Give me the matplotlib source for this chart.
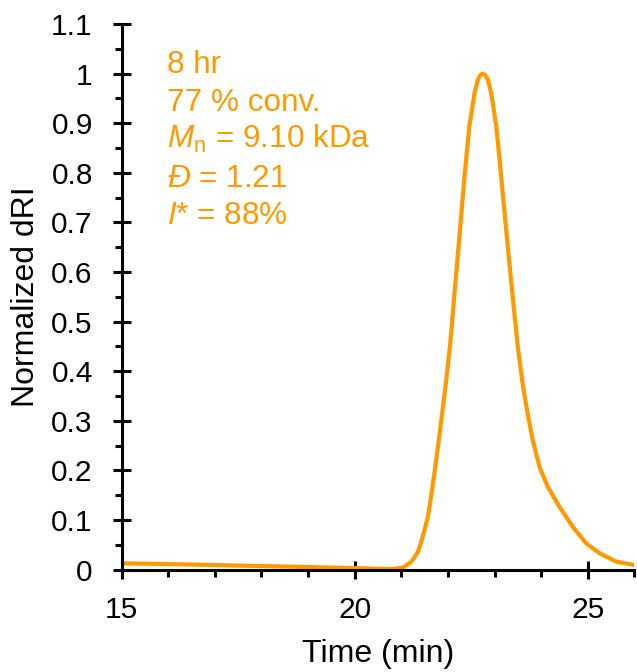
import matplotlib
matplotlib.use("Agg")
import matplotlib.pyplot as plt
from matplotlib.ticker import MultipleLocator

plt.rcParams['font.family'] = ['Liberation Sans', 'DejaVu Sans']
plt.rcParams['mathtext.fontset'] = 'custom'
plt.rcParams['mathtext.rm'] = 'Liberation Sans'
plt.rcParams['mathtext.it'] = 'Liberation Sans:italic'
plt.rcParams['mathtext.bf'] = 'Liberation Sans:bold'

time_min = [15.0, 16.0, 17.0, 18.0, 19.0, 20.0, 20.5, 20.8, 21.04, 21.22, 21.36,
            21.46, 21.57, 21.64, 21.71, 21.79, 21.87, 21.95, 22.05, 22.14, 22.25,
            22.30, 22.35, 22.40, 22.46, 22.57, 22.64, 22.70, 22.75, 22.80, 22.86,
            22.93, 23.04, 23.10, 23.15, 23.20, 23.285, 23.39, 23.50, 23.61, 23.71,
            23.82, 23.965, 24.14, 24.39, 24.68, 24.965, 25.25, 25.61, 26.0]
dri = [0.0125, 0.011, 0.009, 0.007, 0.005, 0.003, 0.0015, 0.001, 0.004, 0.016, 0.036,
       0.066, 0.106, 0.147, 0.194, 0.25, 0.31, 0.37, 0.455, 0.555, 0.675,
       0.73, 0.785, 0.835, 0.893, 0.960, 0.987, 0.997, 1.0, 0.997, 0.987,
       0.960, 0.893, 0.835, 0.785, 0.735, 0.651, 0.550, 0.449, 0.37, 0.315,
       0.261, 0.207, 0.167, 0.127, 0.086, 0.053, 0.033, 0.016, 0.009]

annot_lines = ["8 hr", "77 % conv.", r"$M_\mathrm{n}$ = 9.10 kDa",
               r"$\mathit{Đ}$ = 1.21", r"$I$* = 88%"]
yticks = [0, 0.1, 0.2, 0.3, 0.4, 0.5, 0.6, 0.7, 0.8, 0.9, 1, 1.1]
ytick_labels = ["0", "0.1", "0.2", "0.3", "0.4", "0.5", "0.6", "0.7", "0.8", "0.9", "1", "1.1"]
xticks = [15, 20, 25]

orange = "#FF9900"

fig = plt.figure(figsize=(6.37, 6.72), dpi=100)
ax = fig.add_axes([0.191, 0.1525, 0.8048, 0.8118])

ax.plot(time_min, dri, color=orange, lw=3.0, solid_joinstyle='round')
ax.set_xlim(15, 26)
ax.set_ylim(0, 1.1)

ax.set_xticks(xticks)
ax.set_yticks(yticks)
ax.set_yticklabels(ytick_labels)
ax.xaxis.set_minor_locator(MultipleLocator(1))
ax.yaxis.set_minor_locator(MultipleLocator(0.05))

for s in ['top', 'right']:
    ax.spines[s].set_visible(False)
for s in ['left', 'bottom']:
    ax.spines[s].set_linewidth(2.2)

ax.tick_params(which='major', direction='inout', length=13.5, width=2.2,
               labelsize=21.5)
ax.tick_params(axis='x', which='major', pad=12)
ax.tick_params(axis='y', which='major', pad=14)
ax.tick_params(which='minor', direction='out', length=5, width=2.2)

ax.set_xlabel("Time (min)", fontsize=23)
ax.set_ylabel("Normalized dRI", fontsize=23)
ax.xaxis.set_label_coords(0.5, -0.127)
ax.yaxis.set_label_coords(-0.157, 0.5)

ys = [0.910, 0.841, 0.773, 0.702, 0.633]
for txt, y in zip(annot_lines, ys):
    ax.text(0.088, y, txt, transform=ax.transAxes, color=orange, fontsize=22.7,
            ha='left', va='baseline')

fig.savefig("out.png", dpi=100)
